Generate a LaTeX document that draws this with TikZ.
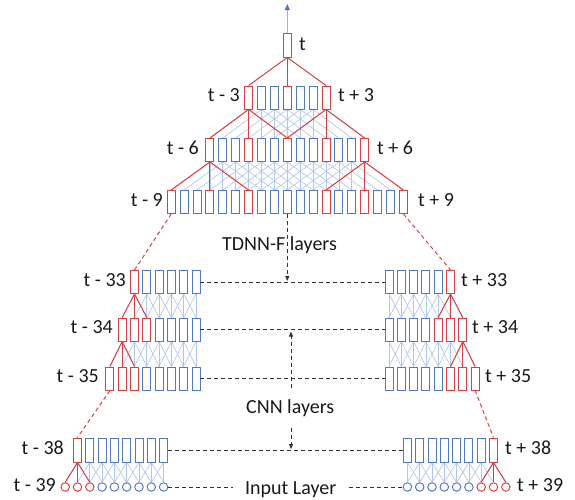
\documentclass[tikz,border=0pt]{standalone}
\usepackage{fontspec}
\setmainfont{Carlito}
\usetikzlibrary{arrows.meta,calc}
\pgfdeclarelayer{bg}
\pgfsetlayers{bg,main}
\definecolor{myred}{RGB}{218,62,66}
\definecolor{myblue}{RGB}{80,120,196}
\definecolor{meshc}{RGB}{176,198,234}
\definecolor{arrowblue}{RGB}{150,180,225}
\begin{document}
\begin{tikzpicture}[x=1pt,y=-1pt,
  bx/.style={draw=#1, fill=white, line width=0.95pt, minimum width=8pt, minimum height=23pt, inner sep=0pt},
  cir/.style={circle, draw=#1, fill=white, line width=0.95pt, minimum size=8.5pt, inner sep=0pt},
  meshline/.style={draw=meshc, line width=0.65pt},
  redline/.style={draw=myred, line width=1pt},
  reddash/.style={draw=myred, line width=1pt, dash pattern=on 4pt off 3pt},
  blackdash/.style={draw=black!80, line width=0.9pt, dash pattern=on 4pt off 3pt},
  smalltip/.style={-{Triangle[length=5pt,width=4pt]}},
  lbl/.style={inner sep=0pt, text=black!90, font=\fontsize{20}{24}\selectfont}
]
\useasboundingbox (0,0) rectangle (575,499);
\def\cx{287.3}
\def\pp{12.9}

% ---------- TDNN-F part ----------
\node[bx=myred, minimum height=24pt] (t) at (\cx,45) {};
\foreach \i in {-3,...,3}{
  \pgfmathtruncatemacro\isr{(mod(abs(\i),3)==0)?1:0}
  \ifnum\isr=1 \def\bc{myred}\else\def\bc{myblue}\fi
  \node[bx=\bc] (r3n\i) at ({\cx+\i*\pp},97.5) {};
}
\foreach \i in {-6,...,6}{
  \pgfmathtruncatemacro\isr{(mod(abs(\i),3)==0)?1:0}
  \ifnum\isr=1 \def\bc{myred}\else\def\bc{myblue}\fi
  \node[bx=\bc] (r6n\i) at ({\cx+\i*\pp},150) {};
}
\foreach \i in {-9,...,9}{
  \pgfmathtruncatemacro\isr{(mod(abs(\i),3)==0 && \i!=0)?1:0}
  \ifnum\isr=1 \def\bc{myred}\else\def\bc{myblue}\fi
  \node[bx=\bc] (r9n\i) at ({\cx+\i*\pp},202) {};
}

% ---------- CNN part ----------
\foreach \row/\yy/\kmax/\rmin in {33/282/33/33, 34/329.5/34/32, 35/378.5/35/33}{
  \foreach \k in {28,...,\kmax}{
    \pgfmathtruncatemacro\isr{(\k>=\rmin)?1:0}
    \ifnum\isr=1 \def\bc{myred}\else\def\bc{myblue}\fi
    \node[bx=\bc] (La\row n\k) at ({196-(\k-28)*12.3},\yy) {};
    \node[bx=\bc] (Ra\row n\k) at ({450.5+(\k-33)*12.3},\yy) {};
  }
}

% ---------- bottom part ----------
\foreach \k in {31,...,38}{
  \pgfmathtruncatemacro\isr{(\k==38)?1:0}
  \ifnum\isr=1 \def\bc{myred}\else\def\bc{myblue}\fi
  \node[bx=\bc, minimum height=24pt] (Lbn\k) at ({77.5-(\k-38)*12.3},450) {};
  \node[bx=\bc, minimum height=24pt] (Rbn\k) at ({493.5+(\k-38)*12.3},450) {};
}
\foreach \k in {31,...,39}{
  \pgfmathtruncatemacro\isr{(\k>=37)?1:0}
  \ifnum\isr=1 \def\bc{myred}\else\def\bc{myblue}\fi
  \node[cir=\bc] (Lcn\k) at ({77.5-(\k-38)*12.3},487) {};
  \node[cir=\bc] (Rcn\k) at ({493.5+(\k-38)*12.3},487) {};
}

% ---------- labels ----------
\node[lbl, anchor=base west] (lt) at (299,50) {t};
\node[lbl, anchor=base east] (lm3) at (240,101.5) {t - 3};
\node[lbl, anchor=base west] (lp3) at (338,101.5) {t + 3};
\node[lbl, anchor=base east] (lm6) at (199,154) {t - 6};
\node[lbl, anchor=base west] (lp6) at (377,154) {t + 6};
\node[lbl, anchor=base east] (lm9) at (163,206) {t - 9};
\node[lbl, anchor=base west] (lp9) at (418,206) {t + 9};
\node[lbl, anchor=base east] (lm33) at (126,286) {t - 33};
\node[lbl, anchor=base east] (lm34) at (113,333.5) {t - 34};
\node[lbl, anchor=base east] (lm35) at (99,382.5) {t - 35};
\node[lbl, anchor=base west] (lp33) at (461,286) {t + 33};
\node[lbl, anchor=base west] (lp34) at (472,333.5) {t + 34};
\node[lbl, anchor=base west] (lp35) at (485,382.5) {t + 35};
\node[lbl, anchor=base east] (lm38) at (64,454) {t - 38};
\node[lbl, anchor=base east] (lm39) at (56,491) {t - 39};
\node[lbl, anchor=base west] (lp38) at (505,454) {t + 38};
\node[lbl, anchor=base west] (lp39) at (517,491) {t + 39};
\node[lbl, anchor=base west] (tdnn) at (222,250) {TDNN-F layers};
\node[lbl, anchor=base west] (cnn) at (246,413) {CNN layers};
\node[lbl, anchor=base west, inner xsep=12pt] (inp) at (233,494) {Input Layer};

% ---------- connections ----------
\begin{pgfonlayer}{bg}
  % TDNN meshes
  \foreach \i in {-3,...,3}{
    \foreach \d in {-3,0,3}{
      \pgfmathtruncatemacro\j{\i+\d}
      \draw[meshline] (r3n\i.south) -- (r6n\j.north);
    }
  }
  \foreach \i in {-6,...,6}{
    \foreach \d in {-3,0,3}{
      \pgfmathtruncatemacro\j{\i+\d}
      \draw[meshline] (r6n\i.south) -- (r9n\j.north);
    }
  }
  % CNN meshes
  \foreach \k in {28,...,33}{
    \foreach \d in {-1,0,1}{
      \pgfmathtruncatemacro\j{\k+\d}
      \ifnum\j>27
        \draw[meshline] (La33n\k.south) -- (La34n\j.north);
        \draw[meshline] (Ra33n\k.south) -- (Ra34n\j.north);
      \fi
    }
  }
  \foreach \k in {28,...,34}{
    \foreach \d in {-1,0,1}{
      \pgfmathtruncatemacro\j{\k+\d}
      \ifnum\j>27
        \draw[meshline] (La34n\k.south) -- (La35n\j.north);
        \draw[meshline] (Ra34n\k.south) -- (Ra35n\j.north);
      \fi
    }
  }
  % bottom meshes
  \foreach \k in {31,...,38}{
    \foreach \d in {-1,0,1}{
      \pgfmathtruncatemacro\j{\k+\d}
      \ifnum\j>30
        \draw[meshline] (Lbn\k.south) -- (Lcn\j.north);
        \draw[meshline] (Rbn\k.south) -- (Rcn\j.north);
      \fi
    }
  }
  % red paths
  \foreach \j in {-3,0,3} \draw[redline] (t.south) -- (r3n\j.north);
  \foreach \j in {-6,-3,0} \draw[redline] (r3n-3.south) -- (r6n\j.north);
  \foreach \j in {0,3,6} \draw[redline] (r3n3.south) -- (r6n\j.north);
  \foreach \j in {-9,-6,-3} \draw[redline] (r6n-6.south) -- (r9n\j.north);
  \foreach \j in {3,6,9} \draw[redline] (r6n6.south) -- (r9n\j.north);
  \foreach \j in {32,33,34}{
    \draw[redline] (La33n33.south) -- (La34n\j.north);
    \draw[redline] (Ra33n33.south) -- (Ra34n\j.north);
  }
  \foreach \j in {33,34,35}{
    \draw[redline] (La34n34.south) -- (La35n\j.north);
    \draw[redline] (Ra34n34.south) -- (Ra35n\j.north);
  }
  \foreach \j in {37,38,39}{
    \draw[redline] (Lbn38.south) -- (Lcn\j.north);
    \draw[redline] (Rbn38.south) -- (Rcn\j.north);
  }
\end{pgfonlayer}

% long-range red dashed links
\draw[reddash] (r9n-9.south) -- (La33n33.north);
\draw[reddash] (r9n9.south) -- (Ra33n33.north);
\draw[reddash] (La35n35.south) -- (Lbn38.north);
\draw[reddash] (Ra35n35.south) -- (Rbn38.north);

% horizontal dashed lines
\draw[blackdash] (La33n28.east) -- (Ra33n28.west);
\draw[blackdash] (La34n28.east) -- (Ra34n28.west);
\draw[blackdash] (La35n28.east) -- (Ra35n28.west);
\draw[blackdash] (Lbn31.east) -- (Rbn31.west);
\draw[blackdash] (Lcn31.east) -- (inp.west |- Lcn31.east);
\draw[blackdash] (inp.east |- Rcn31.west) -- (Rcn31.west);

% vertical dashed arrows
\coordinate (a1) at (\cx,281);
\coordinate (a2s) at (291,388);
\coordinate (a2e) at (291,331.5);
\coordinate (a3s) at (291,428);
\coordinate (a3e) at (291,449);
\draw[blackdash, smalltip] (r9n0.south) -- (a1);
\draw[blackdash, smalltip] (a2s) -- (a2e);
\draw[blackdash, smalltip] (a3s) -- (a3e);

% output arrow
\coordinate (topend) at (\cx,4);
\draw[arrowblue, line width=1.2pt, -{Triangle[length=6pt,width=5pt,color=myblue]}] (t.north) -- (topend);
\end{tikzpicture}
\end{document}
